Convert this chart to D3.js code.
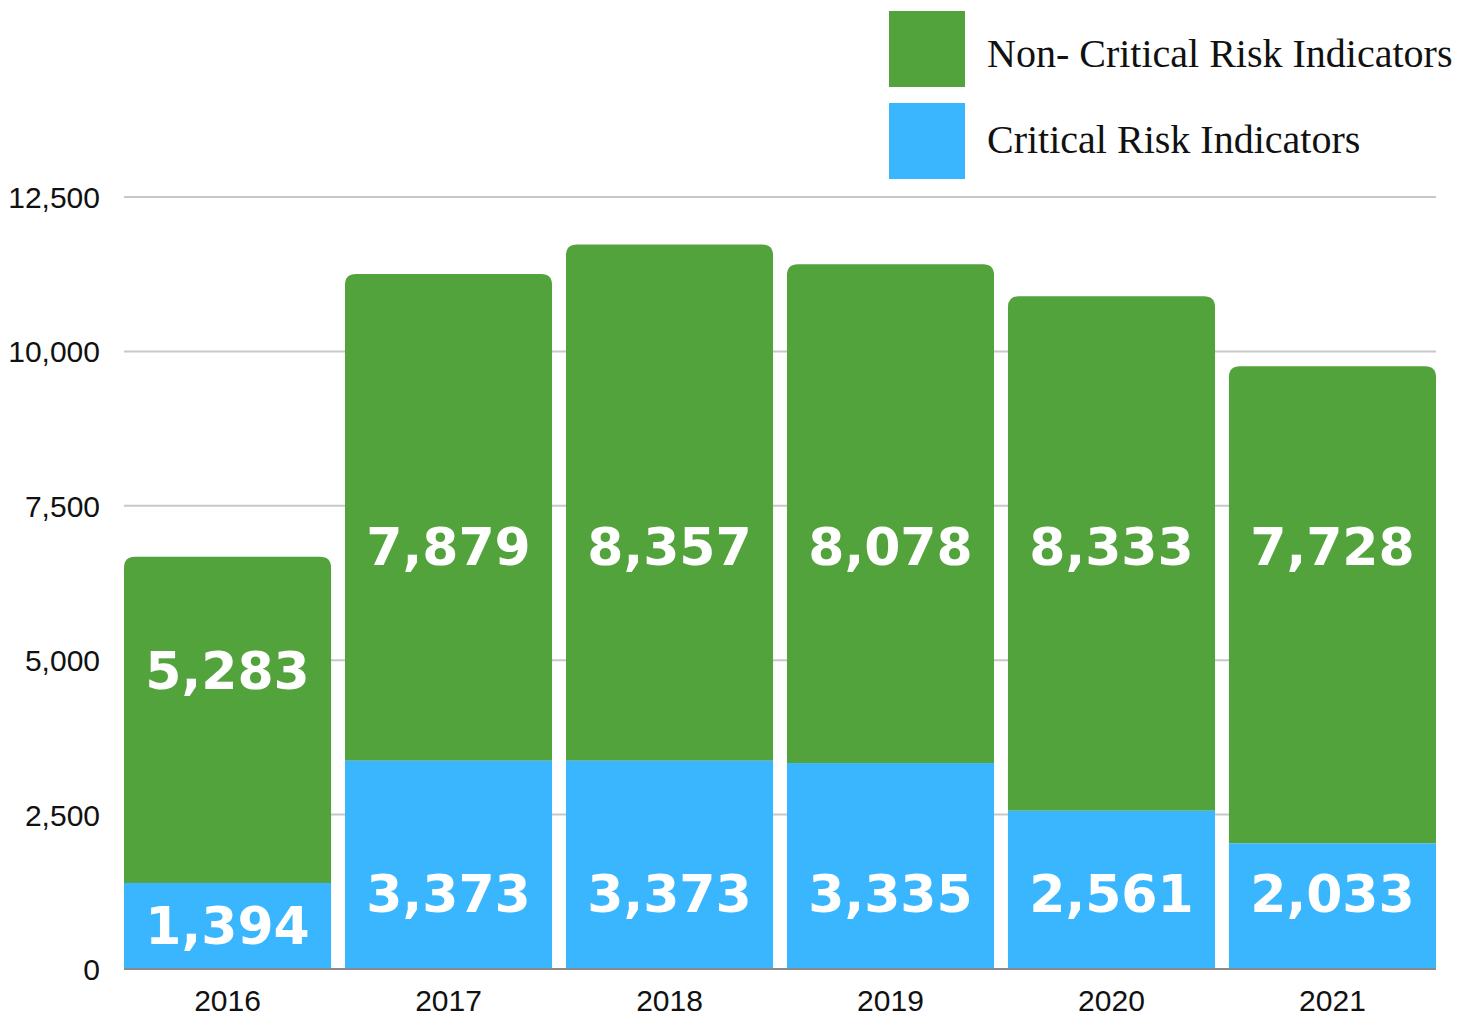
<!DOCTYPE html>
<html>
<head>
<meta charset="utf-8">
<script src="https://cdn.jsdelivr.net/npm/d3@7"></script>
<style>
  html, body { margin: 0; padding: 0; background: #ffffff; }
  svg { display: block; }
</style>
</head>
<body>
<svg id="chart" width="1477" height="1015"></svg>
<script>
// Risk indicators per year, stacked: critical at the bottom, non-critical on top
const years = ["2016", "2017", "2018", "2019", "2020", "2021"];
const critical = [1394, 3373, 3373, 3335, 2561, 2033];
const nonCritical = [5283, 7879, 8357, 8078, 8333, 7728];
const yTicks = [0, 2500, 5000, 7500, 10000, 12500];
const seriesNames = ["Non- Critical Risk Indicators", "Critical Risk Indicators"];

const GREEN = "#53a33c";
const BLUE = "#39b6fe";

const svg = d3.select("#chart");

const x = d3.scaleBand()
  .domain(years)
  .range([124, 1436])
  .paddingInner(0.063)
  .paddingOuter(0);

const y = d3.scaleLinear()
  .domain([0, 12500])
  .range([969, 197]);

const fmt = d3.format(",");

// Horizontal gridlines
svg.append("g")
  .selectAll("line")
  .data(yTicks.filter(d => d > 0))
  .join("line")
  .attr("x1", 124)
  .attr("x2", 1436)
  .attr("y1", d => y(d))
  .attr("y2", d => y(d))
  .attr("stroke", "#c8c8c8")
  .attr("stroke-width", 2);

// Y axis labels
const yAxis = d3.axisLeft(y).tickValues(yTicks).tickFormat(fmt).tickSize(0).tickPadding(0);
svg.append("g")
  .attr("transform", "translate(100,0)")
  .call(yAxis)
  .call(g => g.select(".domain").remove())
  .call(g => g.selectAll("text")
    .attr("font-family", "'Liberation Sans', Arial, sans-serif")
    .attr("font-size", 30)
    .attr("fill", "#111")
    .attr("dy", "0.35em"));

const rows = years.map((yr, i) => ({
  year: yr,
  crit: critical[i],
  non: nonCritical[i],
  total: critical[i] + nonCritical[i]
}));

// Non-critical segment with rounded top corners
function roundedTop(x0, y0, w, h, r) {
  return `M${x0},${y0 + h}V${y0 + r}Q${x0},${y0} ${x0 + r},${y0}` +
    `H${x0 + w - r}Q${x0 + w},${y0} ${x0 + w},${y0 + r}V${y0 + h}Z`;
}

svg.append("g")
  .selectAll("path")
  .data(rows)
  .join("path")
  .attr("d", d => {
    const top = y(d.total), bottom = y(d.crit);
    return roundedTop(x(d.year), top, x.bandwidth(), bottom - top, 11);
  })
  .attr("fill", GREEN);

svg.append("g")
  .selectAll("rect")
  .data(rows)
  .join("rect")
  .attr("x", d => x(d.year))
  .attr("y", d => y(d.crit))
  .attr("width", x.bandwidth())
  .attr("height", d => y(0) - y(d.crit))
  .attr("fill", BLUE);

// Baseline
svg.append("line")
  .attr("x1", 124).attr("x2", 1436)
  .attr("y1", y(0)).attr("y2", y(0))
  .attr("stroke", "#8a8a8a")
  .attr("stroke-width", 2);

// Value labels inside the segments
const labelFont = "'DejaVu Sans', Verdana, sans-serif";
const labels = svg.append("g")
  .attr("font-family", labelFont)
  .attr("font-weight", "bold")
  .attr("font-size", 52)
  .attr("fill", "#ffffff")
  .attr("text-anchor", "middle");

labels.selectAll("text.non")
  .data(rows)
  .join("text")
  .attr("class", "non")
  .attr("x", d => x(d.year) + x.bandwidth() / 2)
  .attr("y", d => y(Math.min(6850, d.total - 1836)))
  .attr("dy", "0.36em")
  .text(d => fmt(d.non));

labels.selectAll("text.crit")
  .data(rows)
  .join("text")
  .attr("class", "crit")
  .attr("x", d => x(d.year) + x.bandwidth() / 2)
  .attr("y", d => y(Math.min(1230, d.crit - 690)))
  .attr("dy", "0.36em")
  .text(d => fmt(d.crit));

// X axis labels
const xAxis = d3.axisBottom(x).tickSize(0).tickPadding(0);
svg.append("g")
  .attr("transform", "translate(0,1000)")
  .call(xAxis)
  .call(g => g.select(".domain").remove())
  .call(g => g.selectAll("text")
    .attr("font-family", "'Liberation Sans', Arial, sans-serif")
    .attr("font-size", 30)
    .attr("fill", "#111")
    .attr("dy", "0.35em"));

// Legend
const legend = svg.append("g");
const legendColors = [GREEN, BLUE];
legend.selectAll("rect")
  .data(seriesNames)
  .join("rect")
  .attr("x", 889)
  .attr("y", (d, i) => 11 + i * 92)
  .attr("width", 76)
  .attr("height", 76)
  .attr("fill", (d, i) => legendColors[i]);

legend.selectAll("text")
  .data(seriesNames)
  .join("text")
  .attr("x", 987)
  .attr("y", (d, i) => 67 + i * 86)
  .attr("font-family", "'Liberation Serif', 'Times New Roman', serif")
  .attr("font-size", 40)
  .attr("fill", "#111")
  .text(d => d);
</script>
</body>
</html>
